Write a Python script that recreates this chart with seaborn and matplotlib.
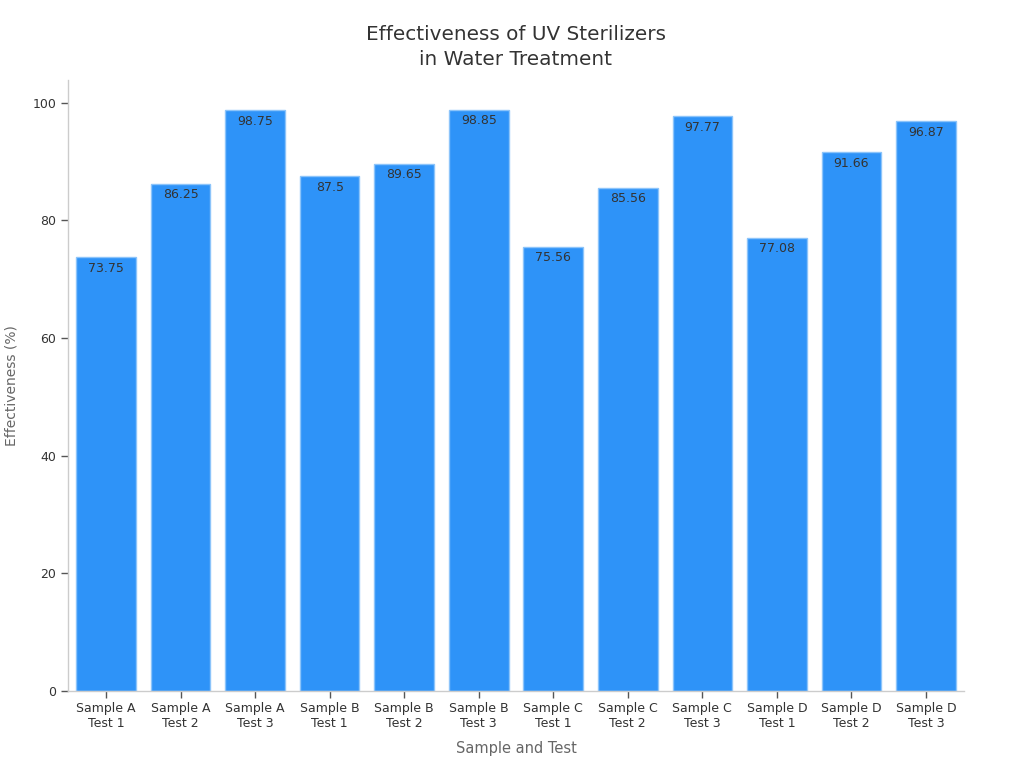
import matplotlib
matplotlib.use("Agg")
import matplotlib.pyplot as plt
import seaborn as sns
import pandas as pd

categories = ["Sample A\nTest 1", "Sample A\nTest 2", "Sample A\nTest 3",
              "Sample B\nTest 1", "Sample B\nTest 2", "Sample B\nTest 3",
              "Sample C\nTest 1", "Sample C\nTest 2", "Sample C\nTest 3",
              "Sample D\nTest 1", "Sample D\nTest 2", "Sample D\nTest 3"]
values = [73.75, 86.25, 98.75, 87.5, 89.65, 98.85, 75.56, 85.56, 97.77, 77.08, 91.66, 96.87]
value_labels = ["73.75", "86.25", "98.75", "87.5", "89.65", "98.85", "75.56", "85.56", "97.77", "77.08", "91.66", "96.87"]

sns.set_style("ticks")
plt.rcParams['font.family'] = ['DejaVu Sans']

df = pd.DataFrame({"cat": categories, "val": values})

fig = plt.figure(figsize=(10.24, 7.68), dpi=100)
ax = fig.add_axes([0.0664, 0.1003, 0.8750, 0.7957])
sns.barplot(data=df, x="cat", y="val", color="#2E93F8", saturation=1, width=0.8,
            edgecolor="#8CC4FA", linewidth=1, ax=ax)
ax.set_ylim(0, 103.9)
ax.set_xlim(-0.51, len(categories) - 0.49)

for patch, lab in zip(ax.patches, value_labels):
    ax.text(patch.get_x() + patch.get_width() / 2, patch.get_height() - 0.8, lab,
            ha="center", va="top", fontsize=9, color="#333333")

ax.set_title("Effectiveness of UV Sterilizers\nin Water Treatment", fontsize=14.4, color="#333333",
             pad=11, linespacing=1.4)
ax.set_xlabel("Sample and Test", fontsize=10.5, color="#666666", labelpad=8)
ax.set_ylabel("Effectiveness (%)", fontsize=10, color="#666666", labelpad=10)
ax.set_yticks([0, 20, 40, 60, 80, 100])
ax.tick_params(axis="both", labelsize=9, labelcolor="#333333", length=5, color="#555555", width=1)
ax.tick_params(axis="x", pad=3)
for s in ["top", "right"]:
    ax.spines[s].set_visible(False)
for s in ["left", "bottom"]:
    ax.spines[s].set_color("#cccccc")
    ax.spines[s].set_linewidth(1)

fig.savefig("out.png", dpi=100)
